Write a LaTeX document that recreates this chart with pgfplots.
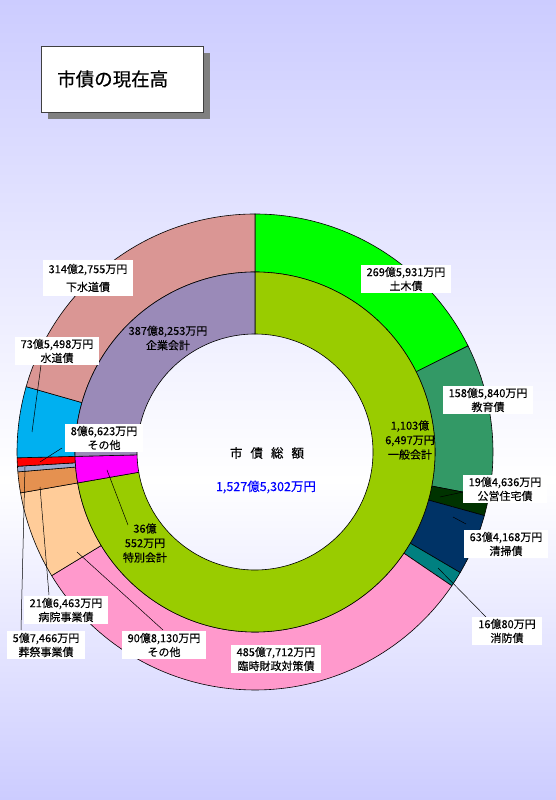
\documentclass[border=0pt]{standalone}
\usepackage{pgfplots}
\pgfplotsset{compat=1.18}
\usepackage{pgfplotstable}
\usepackage{fontspec}
\setmainfont{Noto Sans CJK JP}[FakeBold=0.35]

\definecolor{bg}{HTML}{CCCCFF}
\definecolor{cDoboku}{HTML}{00FF00}
\definecolor{cKyoiku}{HTML}{339966}
\definecolor{cJutaku}{HTML}{003300}
\definecolor{cSeiso}{HTML}{003366}
\definecolor{cShobo}{HTML}{008080}
\definecolor{cRinji}{HTML}{FF99CC}
\definecolor{cSonota}{HTML}{FFCC99}
\definecolor{cByoin}{HTML}{E59150}
\definecolor{cSosai}{HTML}{99A8CC}
\definecolor{cTokuSonota}{HTML}{FF0000}
\definecolor{cSuido}{HTML}{00B0F0}
\definecolor{cGesui}{HTML}{DA9694}
\definecolor{cIppan}{HTML}{99CC00}
\definecolor{cTokubetsu}{HTML}{FF00FF}
\definecolor{cKigyo}{HTML}{9A8AB8}

% outer ring, clockwise from 12 o'clock (oku yen)
\pgfplotstableread{
val col
269.5931 cDoboku
158.5840 cKyoiku
19.4636 cJutaku
63.4168 cSeiso
16.0080 cShobo
485.7712 cRinji
90.8130 cSonota
21.6463 cByoin
5.7466 cSosai
8.6623 cTokuSonota
73.5498 cSuido
314.2755 cGesui
}\outerring

% inner ring
\pgfplotstableread{
val col
1103.6497 cIppan
36.0552 cTokubetsu
387.8253 cKigyo
}\innerring

\def\cx{255}
\def\cy{348}

% #1 table, #2 inner radius, #3 outer radius
\newcommand\drawring[3]{%
  \pgfplotstablegetrowsof{#1}%
  \pgfmathtruncatemacro\lastrow{\pgfplotsretval-1}%
  \def\tot{0}%
  \pgfplotsforeachungrouped \i in {0,...,\lastrow}{%
    \pgfplotstablegetelem{\i}{val}\of{#1}%
    \pgfmathsetmacro\tot{\tot+\pgfplotsretval}}%
  \def\cum{0}%
  \pgfplotsforeachungrouped \i in {0,...,\lastrow}{%
    \pgfplotstablegetelem{\i}{val}\of{#1}\let\segval\pgfplotsretval
    \pgfplotstablegetelem{\i}{col}\of{#1}\let\segcol\pgfplotsretval
    \pgfmathsetmacro\aa{90-(\cum/\tot)*360}%
    \pgfmathsetmacro\cum{\cum+\segval}%
    \pgfmathsetmacro\ab{90-(\cum/\tot)*360}%
    \pgfmathsetmacro\xa{\cx+#2*cos(\aa)}\pgfmathsetmacro\ya{\cy+#2*sin(\aa)}%
    \pgfmathsetmacro\xb{\cx+#3*cos(\aa)}\pgfmathsetmacro\yb{\cy+#3*sin(\aa)}%
    \pgfmathsetmacro\xc{\cx+#2*cos(\ab)}\pgfmathsetmacro\yc{\cy+#2*sin(\ab)}%
    \edef\doit{\noexpand\filldraw[fill=\segcol,draw=black,line width=0.6pt]
      (axis cs:\xa,\ya) -- (axis cs:\xb,\yb)
      arc[start angle=\aa,end angle=\ab,radius=#3pt]
      -- (axis cs:\xc,\yc)
      arc[start angle=\ab,end angle=\aa,radius=#2pt] -- cycle;}%
    \doit}}

\begin{document}
\begin{tikzpicture}[
  lab/.style={fill=white, align=center, inner xsep=6pt, inner ysep=1.5pt,
    font=\fontsize{11}{14}\selectfont},
  txt/.style={align=center, inner sep=0pt, font=\fontsize{11}{14.5}\selectfont},
  lead/.style={black, line width=0.5pt}]
\begin{axis}[x=1pt, y=1pt, xmin=0, xmax=556, ymin=0, ymax=800,
  hide axis, clip=false]
  % background
  \shade[top color=bg, bottom color=white] (axis cs:0,320) rectangle (axis cs:556,800);
  \shade[top color=white, bottom color=bg] (axis cs:0,0) rectangle (axis cs:556,320);

  % title
  \fill[gray] (axis cs:48,681) rectangle (axis cs:210,747);
  \filldraw[fill=white, draw=black!75, line width=0.8pt] (axis cs:41,688) rectangle (axis cs:203,754);
  \node[anchor=west, font=\fontsize{18.5}{20}\selectfont, inner sep=0pt] at (axis cs:57,721) {市債の現在高};

  % rings
  \drawring{\outerring}{180}{238}
  \drawring{\innerring}{118}{180}

  % leader lines
  \draw[lead] (axis cs:440,303) -- (axis cs:463,308);
  \draw[lead] (axis cs:453,283) -- (axis cs:466,276);
  \draw[lead] (axis cs:438,232) -- (axis cs:486,183);
  \draw[lead] (axis cs:77,248) -- (axis cs:163,170);
  \draw[lead] (axis cs:40,313) -- (axis cs:49,205);
  \draw[lead] (axis cs:25,333) -- (axis cs:21,170);
  \draw[lead] (axis cs:40,338) -- (axis cs:62,352);
  \draw[lead] (axis cs:32,368) -- (axis cs:41,435);
  \draw[lead] (axis cs:107,330) -- (axis cs:128,275);

  % outer labels
  \node[lab] at (axis cs:406,521) {269億5,931万円\\土木債};
  \node[lab] at (axis cs:488,400) {158億5,840万円\\教育債};
  \node[lab] at (axis cs:505,311) {19億4,636万円\\公営住宅債};
  \node[lab] at (axis cs:506,256) {63億4,168万円\\清掃債};
  \node[lab] at (axis cs:507,169) {16億80万円\\消防債};
  \node[lab] at (axis cs:276,141) {485億7,712万円\\臨時財政対策債};
  \node[lab] at (axis cs:164,155) {90億8,130万円\\その他};
  \node[lab] at (axis cs:66,190) {21億6,463万円\\病院事業債};
  \node[lab] at (axis cs:46,155) {5億7,466万円\\葬祭事業債};
  \node[lab] at (axis cs:104,362) {8億6,623万円\\その他};
  \node[lab] at (axis cs:57,449) {73億5,498万円\\水道債};
  \node[lab, inner ysep=4pt] at (axis cs:88,522) {314億2,755万円\\[4pt]下水道債};

  % inner labels
  \node[txt] at (axis cs:168,462) {387億8,253万円\\企業会計};
  \node[txt] at (axis cs:410,360) {1,103億\\6,497万円\\一般会計};
  \node[txt] at (axis cs:145,257) {36億\\552万円\\特別会計};

  % centre
  \node[font=\fontsize{12.5}{14}\selectfont] at (axis cs:267,347) {市\hspace{8pt}債\hspace{8pt}総\hspace{8pt}額};
  \node[font=\fontsize{12.5}{14}\selectfont, text=blue] at (axis cs:266,313) {1,527億5,302万円};
\end{axis}
\end{tikzpicture}
\end{document}
